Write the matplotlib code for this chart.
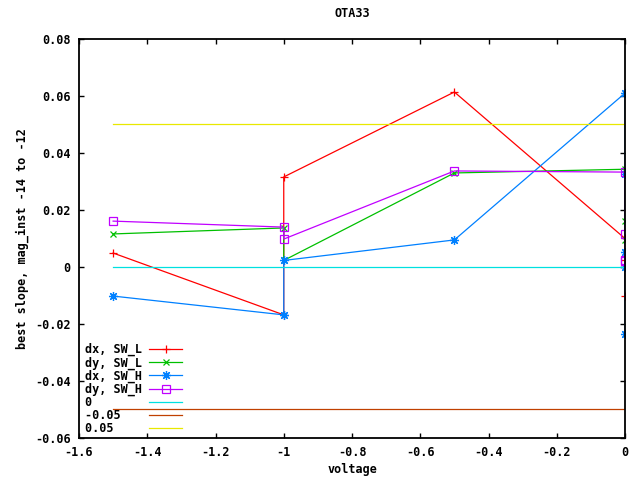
import matplotlib
matplotlib.use("Agg")
import matplotlib.pyplot as plt
from matplotlib.ticker import FuncFormatter

# ── data ─────────────────────────────────────────────────────────────────────
x_dx_swl = [-1.5, -1.0, -1.0, -0.5, 0.0, 0.0, 0.0]
y_dx_swl = [0.0049, -0.0168, 0.0316, 0.0614, 0.0100, 0.0026, -0.0102]

x_dy_swl = [-1.5, -1.0, -1.0, -0.5, 0.0, 0.0, 0.0]
y_dy_swl = [0.0116, 0.0137, 0.0023, 0.0330, 0.0343, 0.0161, 0.0095]

x_dx_swh = [-1.5, -1.0, -1.0, -0.5, 0.0, 0.0, 0.0, 0.0, 0.0]
y_dx_swh = [-0.0102, -0.0168, 0.0023, 0.0095, 0.0610, 0.0325, 0.0053, 0.0, -0.0235]

x_dy_swh = [-1.5, -1.0, -1.0, -0.5, 0.0, 0.0, 0.0, 0.0]
y_dy_swh = [0.0161, 0.0140, 0.0098, 0.0337, 0.0333, 0.0116, 0.0026, 0.0021]

ref_x = [-1.5, 0.0]
ref_levels = [0.0, -0.05, 0.05]
ref_labels = ["0", "-0.05", "0.05"]

x_ticks = [-1.6, -1.4, -1.2, -1.0, -0.8, -0.6, -0.4, -0.2, 0.0]
y_ticks = [-0.06, -0.04, -0.02, 0.0, 0.02, 0.04, 0.06, 0.08]

# ── gnuplot-ish palette ─────────────────────────────────────────────────────
RED     = "#ff0000"
GREEN   = "#00c000"
BLUE    = "#0080ff"
MAGENTA = "#c000ff"
CYAN    = "#00e0e0"
BROWN   = "#c04000"
YELLOW  = "#e8e800"

FONT = {"family": "DejaVu Sans Mono", "weight": "bold", "size": 8.5}
plt.rcParams["font.family"] = "DejaVu Sans Mono"
plt.rcParams["font.weight"] = "bold"

fig = plt.figure(figsize=(6.4, 4.8), dpi=100, facecolor="white")
ax = fig.add_axes([79/640, 1 - 438/480, (625 - 79)/640, (438 - 39)/480])

lw = 0.9
ms = 5.5
ax.plot(x_dx_swl, y_dx_swl, color=RED, lw=lw, marker="+", ms=ms, mew=lw,
        label="dx, SW_L")
ax.plot(x_dy_swl, y_dy_swl, color=GREEN, lw=lw, marker="x", ms=ms - 1, mew=lw,
        label="dy, SW_L")
ax.plot(x_dx_swh, y_dx_swh, color=BLUE, lw=lw, marker=(8, 2, 0), ms=ms + 1,
        mew=lw, label="dx, SW_H")
ax.plot(x_dy_swh, y_dy_swh, color=MAGENTA, lw=lw, marker="s", ms=ms,
        mew=lw, mfc="none", label="dy, SW_H")
for lvl, lbl, col in zip(ref_levels, ref_labels, [CYAN, BROWN, YELLOW]):
    # pad to the width of the longest label so text stays left-aligned
    ax.plot(ref_x, [lvl, lvl], color=col, lw=lw, label=lbl.ljust(8))

ax.set_xlim(-1.6, 0.0)
ax.set_ylim(-0.06, 0.08)
ax.set_xticks(x_ticks)
ax.set_yticks(y_ticks)
fmt = FuncFormatter(lambda v, p: f"{round(v, 4):g}")
ax.xaxis.set_major_formatter(fmt)
ax.yaxis.set_major_formatter(fmt)
ax.tick_params(direction="in", length=3.5, width=1, top=True, right=True,
               labelsize=8.5, pad=6)
for lab in ax.get_xticklabels() + ax.get_yticklabels():
    lab.set_fontweight("bold")
for sp in ax.spines.values():
    sp.set_linewidth(1.3)
    sp.set_zorder(5)

ax.set_title("OTA33", fontdict=FONT, pad=16)
ax.set_xlabel("voltage", fontdict=FONT, labelpad=3)
ax.set_ylabel("best slope, mag_inst -14 to -12", fontdict=FONT, labelpad=4)

leg = ax.legend(loc="lower left", frameon=False, markerfirst=False,
                handlelength=2.8, handletextpad=0.65, labelspacing=0.0,
                borderaxespad=0.0, borderpad=0.3,
                bbox_to_anchor=(0.004, -0.002),
                prop={"family": "DejaVu Sans Mono", "weight": "bold", "size": 8.5})

plt.savefig("out.png", dpi=100, facecolor="white")
